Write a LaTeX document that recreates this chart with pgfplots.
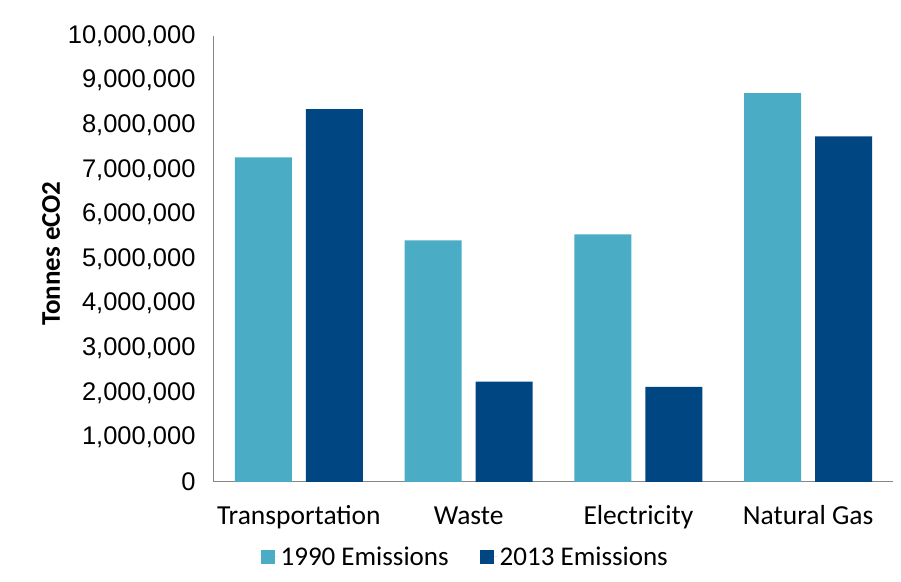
\documentclass[border=0pt]{standalone}
\usepackage{pgfplots}
\pgfplotsset{compat=1.18}
\usepackage{fontspec}
\setmainfont{Carlito}
\newfontfamily\arialf{Liberation Sans}
\definecolor{light}{HTML}{4BACC6}
\definecolor{dark}{HTML}{004682}
\definecolor{axgray}{HTML}{868686}
\begin{document}
\begin{tikzpicture}
\begin{axis}[
  name=ax,
  scale only axis,
  width=679pt, height=446pt,
  xmin=-0.5, xmax=3.5,
  ymin=0, ymax=10000000,
  ybar=14pt, bar width=57pt,
  xtick={0,1,2,3},
  xticklabels={Transportation,Waste,Electricity,Natural Gas},
  ytick distance=1000000,
  scaled y ticks=false,
  major tick length=0pt,
  axis x line*=bottom, axis y line*=left,
  axis line style={draw=axgray, line width=1pt, -},
  yticklabel style={font=\arialf\fontsize{25.5}{25.5}\selectfont, xshift=-15pt,
    /pgf/number format/fixed, /pgf/number format/precision=0,
    /pgf/number format/1000 sep={,}, /pgf/number format/assume math mode=true},
  xticklabel style={font=\fontsize{27.5}{27.5}\selectfont, anchor=base, yshift=-43pt},
  ylabel={\bfseries Tonnes eCO2},
  ylabel style={font=\fontsize{27}{27}\selectfont, at={(axis description cs:-0.24,0.512)}, anchor=center},
  legend columns=2,
  legend style={draw=none, at={(axis description cs:0.37,-0.168)}, anchor=center,
    font=\fontsize{27}{27}\selectfont, /tikz/every even column/.append style={column sep=29pt}},
  legend image code/.code={\fill[#1] (0pt,-7pt) rectangle (14pt,7pt); \path (0pt,0pt) -- (18pt,0pt);},
]
\addplot[fill=light, draw=none] coordinates {(0,7280000) (1,5420000) (2,5550000) (3,8720000)};
\addplot[fill=dark, draw=none] coordinates {(0,8360000) (1,2250000) (2,2130000) (3,7750000)};
\legend{1990 Emissions, 2013 Emissions}
\end{axis}
\pgfresetboundingbox
\path ([shift={(-214pt,-100pt)}]ax.south west) rectangle ([shift={(8pt,36pt)}]ax.north east);
\end{tikzpicture}
\end{document}
